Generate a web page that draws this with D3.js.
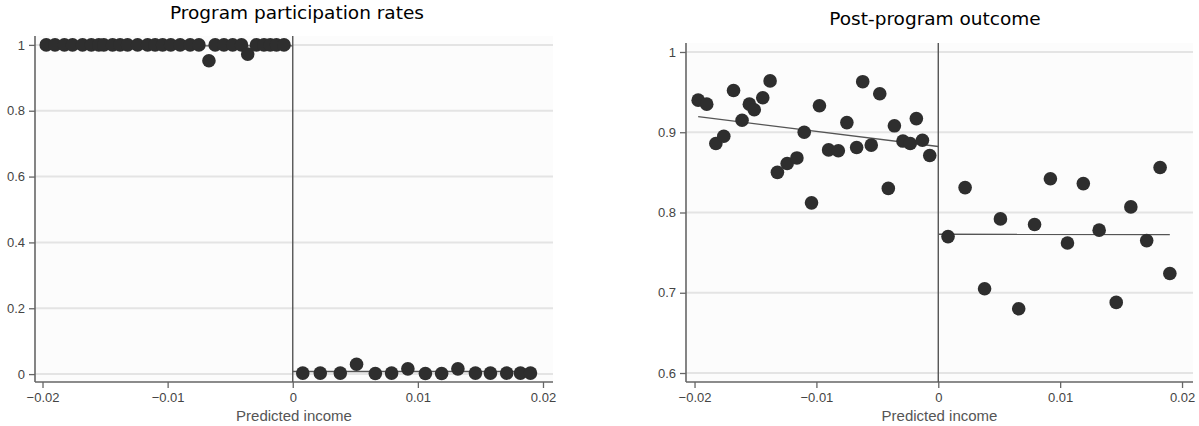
<!DOCTYPE html>
<html>
<head>
<meta charset="utf-8">
<script src="https://cdnjs.cloudflare.com/ajax/libs/d3/7.8.5/d3.min.js"></script>
<style>
  body { margin: 0; background: #fff; }
  .tick text { font-family: "Liberation Sans", Arial, sans-serif; font-size: 13px; fill: #444; }
  .title { font-family: "DejaVu Sans", sans-serif; font-size: 18.5px; fill: #000; }
  .axis-label { font-family: "Liberation Sans", Arial, sans-serif; font-size: 15px; fill: #555; }
</style>
</head>
<body>
<div id="chart"></div>
<script>
// bin midpoints (predicted income) left and right of the cutoff
const binsLeft = [-0.0197, -0.0190, -0.01825, -0.0176, -0.0168, -0.0161, -0.0155, -0.0151, -0.0144, -0.0138,
                  -0.0132, -0.0124, -0.0116, -0.0110, -0.0104, -0.00975, -0.0090, -0.0082, -0.0075, -0.0067,
                  -0.0062, -0.0055, -0.0048, -0.0041, -0.0036, -0.0029, -0.0023, -0.0018, -0.0013, -0.0007];
const binsRight = [0.0008, 0.0022, 0.0038, 0.0051, 0.0066, 0.0079, 0.0092, 0.0106, 0.0119, 0.0132,
                   0.0146, 0.0158, 0.0171, 0.0182, 0.0190];

// program participation rates
const partLeft = [1, 1, 1, 1, 1, 1, 1, 1, 1, 1, 1, 1, 1, 1, 1, 1, 1, 1, 1, 0.952,
                  1, 1, 1, 1, 0.972, 1, 1, 1, 1, 1];
const partRight = [0.003, 0.003, 0.003, 0.030, 0.002, 0.003, 0.016, 0.002, 0.002, 0.016,
                   0.003, 0.003, 0.003, 0.003, 0.003];
const partFit = [[[-0.0197, 0.997], [0, 0.997]], [[0, 0.008], [0.0190, 0.008]]];
const partTicks = [0, 0.2, 0.4, 0.6, 0.8, 1];

// post-program outcome
const outLeft = [0.940, 0.935, 0.886, 0.895, 0.952, 0.915, 0.935, 0.928, 0.943, 0.964,
                 0.850, 0.861, 0.868, 0.900, 0.812, 0.933, 0.878, 0.877, 0.912, 0.881,
                 0.963, 0.884, 0.948, 0.830, 0.908, 0.889, 0.886, 0.917, 0.890, 0.871];
const outRight = [0.770, 0.831, 0.705, 0.792, 0.680, 0.785, 0.842, 0.762, 0.836, 0.778,
                  0.688, 0.807, 0.765, 0.856, 0.724];
const outFit = [[[-0.0197, 0.9194], [0, 0.8822]], [[0, 0.7729], [0.0190, 0.7725]]];
const outTicks = [0.6, 0.7, 0.8, 0.9, 1];

const xTicks = [-0.02, -0.01, 0, 0.01, 0.02];

const svg = d3.select("#chart")
    .append("svg")
    .attr("width", 1199)
    .attr("height", 426);

function fmt(v) {
    if (v === 0) return "0";
    return d3.format("")(+v.toFixed(2)).replace("-", "\u2212");
}

function drawPanel(p) {
    const x = d3.scaleLinear().domain(p.xDomain).range([p.left, p.right]);
    const y = d3.scaleLinear().domain(p.yDomain).range([p.bottom, p.top]);

    const g = svg.append("g");

    g.append("rect")
        .attr("x", p.left).attr("y", p.top)
        .attr("width", p.right - p.left).attr("height", p.bottom - p.top)
        .attr("fill", "#fcfcfc");

    // gridlines
    g.selectAll(".grid")
        .data(p.yTicks)
        .enter()
        .append("line")
        .attr("x1", p.left).attr("x2", p.right)
        .attr("y1", d => y(d)).attr("y2", d => y(d))
        .attr("stroke", "#e4e4e4")
        .attr("stroke-width", 2);

    const yAxis = d3.axisLeft(y).tickValues(p.yTicks).tickFormat(fmt).tickSize(6).tickPadding(4);
    const yg = g.append("g").attr("transform", `translate(${p.left},0)`).call(yAxis);
    yg.select(".domain").remove();
    yg.selectAll(".tick line").attr("stroke", "#666").attr("stroke-width", 1.3);

    const xAxis = d3.axisBottom(x).tickValues(xTicks).tickFormat(fmt).tickSize(6).tickPadding(5);
    const xg = g.append("g").attr("transform", `translate(0,${p.bottom})`).call(xAxis);
    xg.select(".domain").remove();
    xg.selectAll(".tick line").attr("stroke", "#666").attr("stroke-width", 1.3);

    // axis lines
    g.append("line")
        .attr("x1", p.left).attr("x2", p.left)
        .attr("y1", p.top).attr("y2", p.bottom)
        .attr("stroke", "#666").attr("stroke-width", 1.6);
    g.append("line")
        .attr("x1", p.left).attr("x2", p.right)
        .attr("y1", p.bottom).attr("y2", p.bottom)
        .attr("stroke", "#666").attr("stroke-width", 1.6);

    // cutoff line
    g.append("line")
        .attr("x1", x(0)).attr("x2", x(0))
        .attr("y1", p.top).attr("y2", p.bottom)
        .attr("stroke", "#555").attr("stroke-width", 1.4);

    const line = d3.line().x(d => x(d[0])).y(d => y(d[1]));
    p.fit.forEach(seg => {
        g.append("path")
            .attr("d", line(seg))
            .attr("fill", "none")
            .attr("stroke", "#555")
            .attr("stroke-width", 1.4);
    });

    const pts = binsLeft.map((b, i) => [b, p.valsLeft[i]])
        .concat(binsRight.map((b, i) => [b, p.valsRight[i]]));
    g.selectAll(".dot")
        .data(pts)
        .enter()
        .append("circle")
        .attr("class", "dot")
        .attr("cx", d => x(d[0]))
        .attr("cy", d => y(d[1]))
        .attr("r", 6.8)
        .attr("fill", "#2e2e2e");

    g.append("text")
        .attr("class", "title")
        .attr("x", p.titleX)
        .attr("y", p.titleY)
        .attr("text-anchor", "middle")
        .text(p.title);

    g.append("text")
        .attr("class", "axis-label")
        .attr("x", (p.left + p.right) / 2)
        .attr("y", 421)
        .attr("text-anchor", "middle")
        .text("Predicted income");
}

drawPanel({
    title: "Program participation rates", titleX: 297, titleY: 19,
    left: 35, right: 553, top: 36, bottom: 382,
    xDomain: [-0.0206, 0.0208], yDomain: [-0.024, 1.027],
    yTicks: partTicks, valsLeft: partLeft, valsRight: partRight, fit: partFit
});

drawPanel({
    title: "Post-program outcome", titleX: 935, titleY: 25,
    left: 686, right: 1193, top: 43, bottom: 382,
    xDomain: [-0.0207, 0.0209], yDomain: [0.5888, 1.0112],
    yTicks: outTicks, valsLeft: outLeft, valsRight: outRight, fit: outFit
});
</script>
</body>
</html>
